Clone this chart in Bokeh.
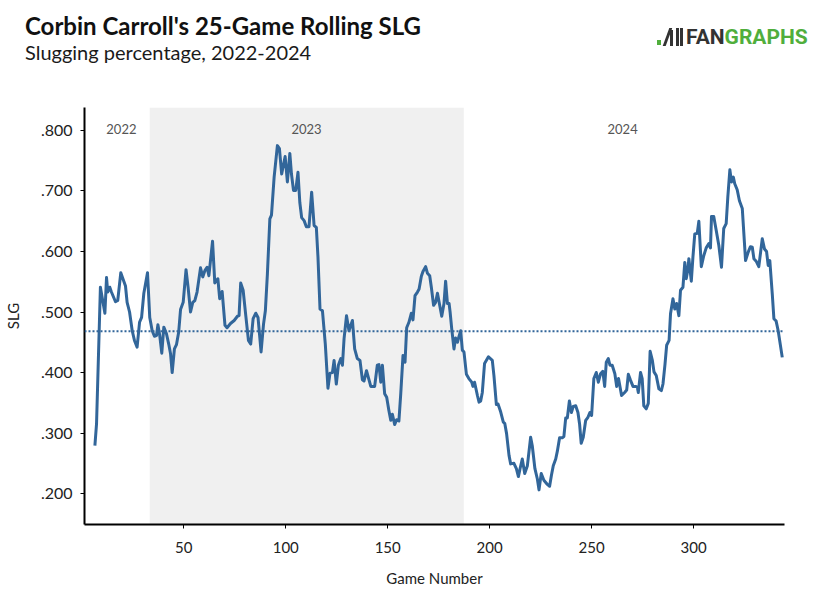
from bokeh.plotting import figure
from bokeh.layouts import column
from bokeh.models import BoxAnnotation, Span, FixedTicker, Div
from bokeh.core.properties import value
from bokeh.embed import file_html
from bokeh.resources import INLINE

# 25-game rolling SLG (game number, SLG)
games = [6.4, 7.2, 9.1, 11.3, 12.1, 12.7, 13.7, 14.5, 16.5, 17.6, 19.1, 21.4, 22.2, 23.4,
         24.7, 25.8, 27.1, 28.3, 29.3, 30.4, 32.2, 33.3, 34.5, 35.6, 36.6, 37.3, 38.2, 39.2,
         40.2, 41.5, 42.6, 43.5, 44.3, 45.4, 46.4, 47.5, 48.4, 49.7, 51.1, 52.1, 53.3, 54.4,
         55.4, 56.5, 58.2, 59.3, 60.4, 61.4, 62.3, 64.1, 65.2, 66.7, 67.6, 68.8, 70.2, 71.2,
         72.9, 74.7, 76.3, 77.1, 77.9, 79.1, 80.4, 81.7, 82.8, 84.0, 85.3, 86.4, 87.9, 89.1,
         90.0, 91.0, 92.2, 93.0, 94.3, 95.9, 96.9, 98.0, 99.7, 100.8, 102.0, 102.8, 103.8,
         104.9, 106.0, 106.9, 107.8, 109.0, 110.1, 111.4, 112.7, 113.9, 115.0, 115.8, 116.8,
         118.0, 119.4, 120.7, 121.7, 122.9, 123.7, 124.8, 125.8, 127.0, 127.8, 128.6, 129.8,
         131.0, 132.7, 133.8, 135.1, 136.4, 137.6, 138.4, 139.6, 141.7, 143.6, 144.9, 145.7,
         146.6, 147.4, 148.5, 149.5, 150.6, 151.5, 152.3, 153.4, 154.4, 155.5, 156.4, 157.5,
         158.5, 159.3, 160.4, 161.6, 162.4, 163.4, 164.6, 165.4, 166.5, 167.3, 168.6, 169.5,
         170.6, 171.4, 172.5, 173.5, 174.4, 175.5, 176.5, 177.6, 178.4, 179.3, 180.1, 180.6,
         181.4, 182.5, 183.3, 184.2, 185.0, 185.8, 186.6, 187.4, 188.6, 189.8, 191.2, 191.8,
         192.6, 194.0, 194.8, 195.6, 196.4, 197.5, 199.4, 201.3, 202.1, 203.3, 204.1, 205.4,
         206.7, 207.4, 208.3, 209.5, 210.3, 211.9, 213.1, 214.1, 214.9, 216.0, 217.2, 218.5,
         220.1, 220.9, 222.2, 223.4, 224.2, 225.3, 226.6, 228.3, 229.4, 230.3, 231.2, 232.4,
         233.2, 234.3, 235.6, 236.4, 237.3, 238.1, 239.1, 240.1, 241.0, 242.2, 243.3, 244.1,
         244.9, 245.9, 247.1, 248.2, 249.2, 250.0, 251.1, 252.3, 253.3, 254.4, 255.5, 256.4,
         257.2, 258.2, 259.0, 260.1, 261.4, 262.3, 263.2, 264.7, 266.2, 267.2, 268.0, 269.1,
         270.3, 271.6, 272.4, 272.9, 274.0, 274.8, 275.6, 276.8, 277.8, 278.7, 279.8, 280.6,
         281.7, 283.0, 284.2, 285.0, 286.0, 286.8, 288.0, 288.7, 289.9, 290.8, 291.7, 292.8,
         293.6, 294.8, 295.7, 296.4, 297.2, 297.7, 298.9, 299.7, 300.6, 301.8, 302.6, 303.8,
         305.0, 306.2, 307.5, 308.3, 308.8, 309.9, 311.1, 312.4, 313.7, 314.8, 316.0, 316.8,
         317.8, 318.6, 319.5, 320.2, 321.4, 322.5, 323.9, 325.5, 326.8, 327.9, 328.8, 329.6,
         330.7, 332.0, 333.7, 334.8, 335.8, 336.6, 337.4, 338.6, 339.4, 340.5, 341.5, 343.5]
slg = [0.279, 0.315, 0.541, 0.498, 0.557, 0.533, 0.541, 0.533, 0.517, 0.519, 0.565, 0.543, 0.516, 0.500,
       0.469, 0.453, 0.442, 0.483, 0.491, 0.531, 0.565, 0.491, 0.469, 0.460, 0.461, 0.479, 0.461, 0.432,
       0.475, 0.464, 0.447, 0.431, 0.400, 0.439, 0.446, 0.467, 0.504, 0.516, 0.570, 0.541, 0.500, 0.516,
       0.519, 0.533, 0.573, 0.558, 0.569, 0.574, 0.560, 0.617, 0.548, 0.555, 0.522, 0.534, 0.478, 0.474,
       0.481, 0.486, 0.493, 0.494, 0.548, 0.536, 0.494, 0.453, 0.447, 0.489, 0.498, 0.491, 0.434, 0.480,
       0.502, 0.563, 0.654, 0.660, 0.723, 0.775, 0.770, 0.728, 0.757, 0.715, 0.762, 0.728, 0.701,
       0.701, 0.731, 0.681, 0.656, 0.651, 0.641, 0.641, 0.698, 0.643, 0.640, 0.591, 0.505,
       0.502, 0.447, 0.374, 0.399, 0.400, 0.420, 0.381, 0.412, 0.423, 0.412, 0.456, 0.494,
       0.469, 0.486, 0.439, 0.423, 0.420, 0.388, 0.386, 0.403, 0.377, 0.377, 0.412, 0.413,
       0.384, 0.412, 0.365, 0.359, 0.337, 0.321, 0.331, 0.314, 0.322, 0.320, 0.365, 0.428,
       0.417, 0.474, 0.483, 0.498, 0.487, 0.527, 0.533, 0.538, 0.559, 0.567, 0.575, 0.564,
       0.560, 0.541, 0.511, 0.516, 0.531, 0.511, 0.493, 0.514, 0.551, 0.514, 0.514, 0.500,
       0.472, 0.439, 0.457, 0.450, 0.460, 0.469, 0.437, 0.434, 0.397, 0.390, 0.384, 0.377,
       0.384, 0.362, 0.351, 0.353, 0.367, 0.415, 0.426, 0.420, 0.395, 0.347, 0.348, 0.335,
       0.318, 0.316, 0.299, 0.263, 0.249, 0.250, 0.241, 0.228, 0.241, 0.257, 0.233, 0.246,
       0.293, 0.279, 0.241, 0.224, 0.206, 0.233, 0.222, 0.215, 0.212, 0.230, 0.246, 0.257,
       0.270, 0.292, 0.292, 0.294, 0.325, 0.325, 0.353, 0.334, 0.344, 0.345, 0.334, 0.315,
       0.283, 0.293, 0.321, 0.326, 0.334, 0.329, 0.390, 0.400, 0.384, 0.398, 0.402, 0.377,
       0.417, 0.423, 0.412, 0.412, 0.398, 0.377, 0.390, 0.362, 0.367, 0.371, 0.397, 0.387,
       0.377, 0.377, 0.376, 0.367, 0.400, 0.390, 0.345, 0.340, 0.349, 0.435, 0.420, 0.401,
       0.395, 0.373, 0.370, 0.381, 0.414, 0.445, 0.453, 0.497, 0.522, 0.505, 0.514, 0.494,
       0.536, 0.541, 0.582, 0.555, 0.570, 0.588, 0.551, 0.591, 0.629, 0.630, 0.650, 0.575,
       0.593, 0.606, 0.613, 0.606, 0.658, 0.658, 0.635, 0.610, 0.574, 0.638, 0.646, 0.690,
       0.735, 0.715, 0.723, 0.712, 0.702, 0.684, 0.671, 0.585, 0.599, 0.608, 0.607, 0.588,
       0.584, 0.575, 0.621, 0.604, 0.600, 0.577, 0.585, 0.530, 0.489, 0.485, 0.469, 0.425]

mean_slg = 0.468
season_2023 = (33.3, 187.3)
season_labels = ["2022", "2023", "2024"]
season_label_x = [19.4, 110.2, 265.2]
season_label_y = [0.803, 0.803, 0.803]
x_ticks = [50, 100, 150, 200, 250, 300]
y_ticks = [0.2, 0.3, 0.4, 0.5, 0.6, 0.7, 0.8]
y_tick_labels = [".200", ".300", ".400", ".500", ".600", ".700", ".800"]

title_text = "Corbin Carroll's 25-Game Rolling SLG"
subtitle_text = "Slugging percentage, 2022-2024"

LINE = "#32669a"
FONT = "Lato"
W = 824

# header: title, subtitle and the FanGraphs mark
box = "position:absolute;line-height:1;white-space:nowrap;"
header_html = (
    f'<div style="position:relative;width:{W}px;height:107px;">'
    f'<div style="{box}left:25px;top:14px;font-family:Lato;font-weight:bold;'
    f'font-size:24px;color:#111111;">{title_text}</div>'
    f'<div style="{box}left:25px;top:42px;font-family:Lato;font-size:20px;'
    f'color:#1a1a1a;">{subtitle_text}</div>'
    f'<div style="position:absolute;left:657px;top:40px;width:4px;height:5px;background:#50ae3c;"></div>'
    f'<div style="position:absolute;left:666px;top:28px;width:3px;height:18px;background:#333333;'
    f'transform:skewX(-20deg);"></div>'
    f'<div style="position:absolute;left:670px;top:30px;width:3px;height:16px;background:#333333;"></div>'
    f'<div style="position:absolute;left:676px;top:28px;width:3px;height:18px;background:#333333;"></div>'
    f'<div style="position:absolute;left:680px;top:28px;width:3px;height:18px;background:#333333;"></div>'
    f'<div style="{box}left:686px;top:27px;font-family:Roboto;font-weight:bold;font-size:21px;">'
    f'<span style="color:#333333;">FAN</span><span style="color:#50ae3c;">GRAPHS</span></div>'
    '</div>'
)
head = Div(text=header_html, width=W, height=107, margin=0)

p = figure(frame_width=700, frame_height=417,
           x_range=(1.3, 344.6), y_range=(0.1488, 0.838),
           output_backend="svg", toolbar_location=None,
           min_border_left=84, min_border_right=40,
           min_border_top=0, min_border_bottom=60)
p.background_fill_color = "white"
p.border_fill_color = "white"
p.outline_line_color = None
p.grid.visible = False

# 2023 season shading
p.add_layout(BoxAnnotation(left=season_2023[0], right=season_2023[1],
                           fill_color="#f0f0f0", fill_alpha=1.0,
                           line_color=None, level="underlay"))

p.text(x=season_label_x, y=season_label_y, text=season_labels,
       text_align="center", text_baseline="middle",
       text_font=value(FONT), text_font_size="13px", text_color="#555555")

p.add_layout(Span(location=mean_slg, dimension="width", line_color=LINE,
                  line_width=2, line_dash="2 2"))

p.line(games, slg, line_color=LINE, line_width=3, line_join="round")

# axes
for ax in (p.xaxis, p.yaxis):
    ax.axis_line_color = "black"
    ax.axis_line_width = 2
    ax.major_tick_line_color = "black"
    ax.major_tick_out = 4
    ax.major_tick_in = 0
    ax.minor_tick_line_color = None
    ax.major_label_text_font = FONT
    ax.major_label_text_font_size = "15px"
    ax.major_label_text_color = "#222222"
    ax.axis_label_text_font = FONT
    ax.axis_label_text_font_size = "15px"
    ax.axis_label_text_font_style = "normal"
    ax.axis_label_text_color = "#222222"

p.xaxis.ticker = FixedTicker(ticks=x_ticks)
p.xaxis.axis_label = "Game Number"
p.xaxis.major_label_standoff = 13
p.xaxis.axis_label_standoff = 13

p.yaxis.ticker = FixedTicker(ticks=y_ticks)
p.yaxis.major_label_overrides = dict(zip(y_ticks, y_tick_labels))
p.yaxis.major_label_text_font_size = "16px"
p.yaxis.axis_label = "SLG"
p.yaxis.major_label_standoff = 8
p.yaxis.axis_label_standoff = 16

layout = column(head, p, spacing=0)
open("out.html", "w").write(file_html(layout, INLINE))
